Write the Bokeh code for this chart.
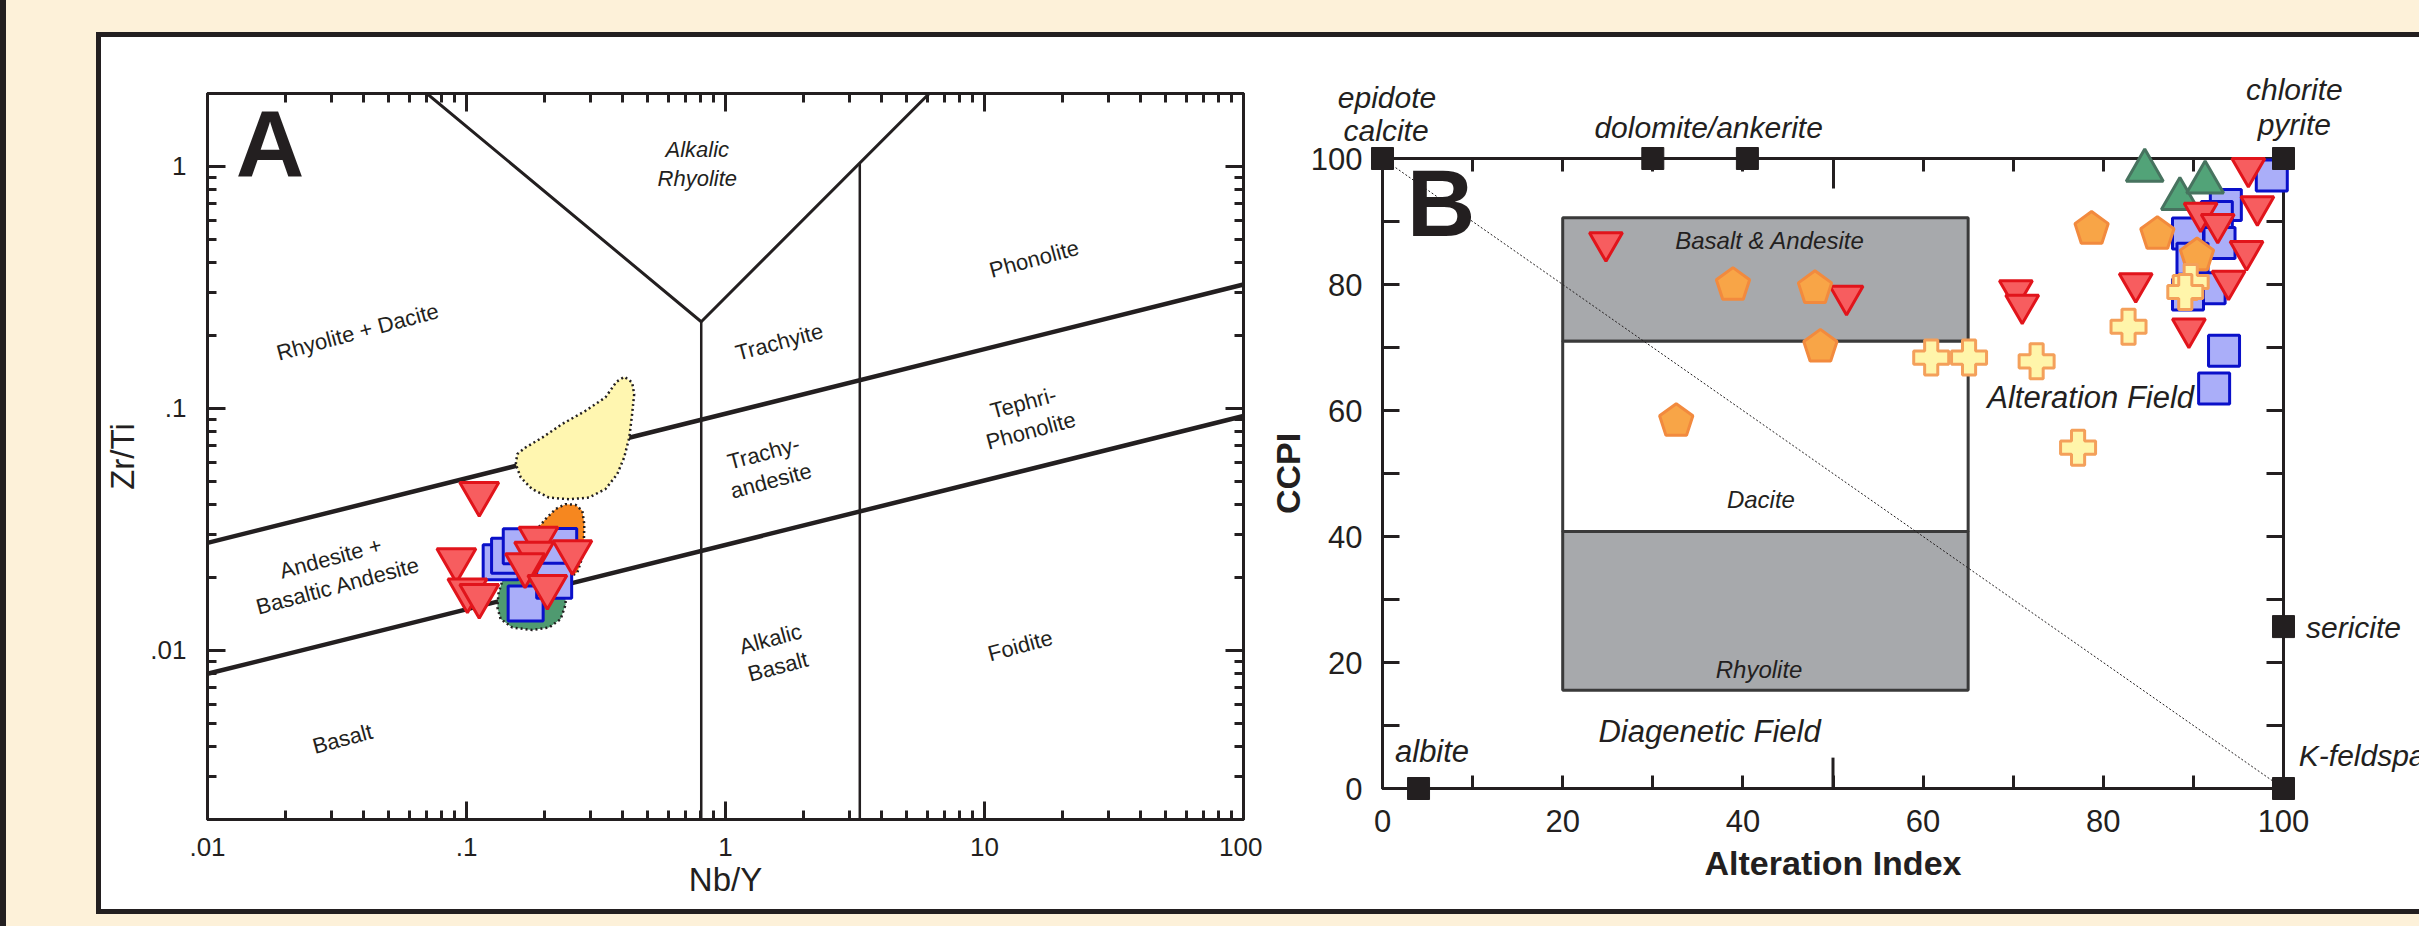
import math
from bokeh.plotting import figure
from bokeh.models import (Range1d, FixedTicker, LogAxis, LinearAxis, Label,
                          CustomJSTickFormatter, Spacer, ColumnDataSource)
from bokeh.layouts import row, column
from bokeh.embed import file_html
from bokeh.resources import INLINE
from bokeh.core.properties import value

FONT = "Liberation Sans"
INK = "#231f20"
CREAM = "#fdf1d9"
RED_FILL, RED_LINE = "#f75d5f", "#e1141b"
BLUE_FILL, BLUE_LINE = "#aaaef9", "#0a10c9"
GREEN_FILL, GREEN_LINE = "#52a378", "#47735f"
ORANGE_FILL, ORANGE_LINE = "#f8a547", "#f28a3e"
CROSS_FILL, CROSS_LINE = "#fff5aa", "#f4a05a"
GREY = "#a7a9ac"

# ================= Panel A : Nb/Y vs Zr/Ti =================
a_x_limits = [0.01, 100]
a_y_limits = [0.002, 2]
a_x_ticks = [0.01, 0.1, 1, 10, 100]
a_y_ticks = [0.01, 0.1, 1]
a_x_minor = [m * 10.0 ** e for e in range(-2, 2) for m in range(2, 10)]
a_y_minor = [v for v in (m * 10.0 ** e for e in range(-3, 1) for m in range(2, 10)) if v <= 2]

# classification boundaries
a_upper_x, a_upper_y = [0.01, 100], [0.0278, 0.325]
a_lower_x, a_lower_y = [0.01, 100], [0.008, 0.093]
a_v1_x, a_v1_y = [0.806, 0.806], [0.002, 0.228]
a_v2_x, a_v2_y = [3.3, 3.3], [0.002, 1.03]
a_vee_x, a_vee_y = [0.0703, 0.806, 6.12], [2, 0.228, 2]

# shaded fields
yellow_x = [0.155, 0.157, 0.169, 0.196, 0.234, 0.288, 0.344, 0.379, 0.407, 0.436, 0.444,
            0.436, 0.425, 0.406, 0.382, 0.344, 0.297, 0.249, 0.208, 0.179, 0.162]
yellow_y = [0.0588, 0.0647, 0.0689, 0.0757, 0.0861, 0.0977, 0.111, 0.1287, 0.135, 0.128, 0.1145,
            0.0947, 0.0757, 0.0626, 0.0535, 0.0464, 0.0428, 0.0421, 0.0428, 0.0464, 0.0518]
orange_x = [0.185, 0.202, 0.221, 0.2415, 0.264, 0.280, 0.285, 0.284, 0.280, 0.268, 0.249,
            0.2275, 0.2145, 0.196, 0.185]
orange_y = [0.0312, 0.0349, 0.0384, 0.0402, 0.0399, 0.0377, 0.0332, 0.0284, 0.0242, 0.0210,
            0.0200, 0.0207, 0.0220, 0.0250, 0.0275]
green_x = [0.1375, 0.1503, 0.1692, 0.1906, 0.2145, 0.231, 0.240, 0.2415, 0.231, 0.2084,
           0.1796, 0.1503, 0.1355, 0.1316, 0.1328]
green_y = [0.0194, 0.0234, 0.0250, 0.0251, 0.0238, 0.0213, 0.0182, 0.0155, 0.01346, 0.01243,
           0.01213, 0.01243, 0.01346, 0.01504, 0.0171]

# samples
a_sq_nby = [0.1355, 0.146, 0.162, 0.228, 0.1692, 0.218]
a_sq_zrti = [0.0231, 0.0246, 0.0269, 0.0270, 0.0156, 0.0194]
a_tri_nby = [0.112, 0.0914, 0.1008, 0.112, 0.1895, 0.1824, 0.2563, 0.1683, 0.2052]
a_tri_zrti = [0.0444, 0.0236, 0.0177, 0.0168, 0.0290, 0.0251, 0.0255, 0.0225, 0.0183]

a_field_text = ["Rhyolite + Dacite", "Trachyite", "Phonolite", "Trachy-\nandesite",
                "Tephri-\nPhonolite", "Andesite +\nBasaltic Andesite", "Alkalic\nBasalt",
                "Foidite", "Basalt"]
a_field_x = [0.0380, 1.613, 15.55, 1.45, 14.6, 0.0309, 1.542, 13.73, 0.0332]
a_field_y = [0.207, 0.188, 0.4145, 0.0573, 0.0923, 0.0211, 0.00977, 0.01046, 0.00431]

# ================= Panel B : alteration box plot =================
b_limits = [0, 100]
b_ticks = [0, 20, 40, 60, 80, 100]
b_minor = [10, 30, 50, 70, 90]
b_mid_tick = [50]

box_left = [20, 20, 20]
box_right = [65, 65, 65]
box_bottom = [71, 40.8, 15.6]
box_top = [90.6, 71, 40.8]
box_color = [GREY, "white", GREY]

diag_ai, diag_ccpi = [0, 100], [100, 0]

end_ai = [0, 30, 40.5, 100, 100, 100, 4]
end_ccpi = [100, 100, 100, 100, 25.7, 0, 0]

sq_ai = [98.7, 93.6, 92.6, 89.4, 92.9, 89.9, 91.8, 89.4, 93.4, 92.3]
sq_ccpi = [97.3, 92.6, 90.7, 88.1, 86.6, 84.1, 79.4, 78.4, 69.5, 63.5]
gtri_ai = [84.6, 88.5, 91.3]
gtri_ccpi = [98.1, 93.6, 96.2]
rtri_ai = [96.1, 97.1, 90.8, 92.7, 95.9, 93.9, 83.6, 89.5, 70.3, 71.0, 24.8, 51.5]
rtri_ccpi = [98.5, 92.4, 91.4, 89.6, 85.3, 80.6, 80.2, 73.0, 79.1, 76.8, 86.7, 78.2]
pent_ai = [78.7, 86.0, 90.4, 38.9, 48.0, 48.6, 32.6]
pent_ccpi = [88.8, 88.0, 84.6, 79.9, 79.4, 70.1, 58.3]
cross_ai = [89.7, 89.1, 82.8, 60.9, 65.1, 72.6, 77.2]
cross_ccpi = [80.4, 78.8, 73.3, 68.4, 68.4, 67.8, 54.1]

b_in_text = ["Basalt & Andesite", "Dacite", "Rhyolite"]
b_in_ai = [43.0, 42.0, 41.8]
b_in_ccpi = [87.0, 45.9, 18.9]
b_field_text = ["Alteration Field", "Diagenetic Field", "albite"]
b_field_ai = [78.6, 36.3, 5.5]
b_field_ccpi = [62.0, 9.1, 5.9]
b_out_text = ["epidote", "calcite", "dolomite/ankerite", "chlorite", "pyrite"]
b_out_ai = [0.5, 0.4, 36.2, 101.2, 101.2]
b_out_ccpi = [109.7, 104.4, 105.0, 110.9, 105.4]
b_side_text = ["sericite", "K-feldspar"]
b_side_ai = [102.5, 101.7]
b_side_ccpi = [25.5, 5.3]


def style_axis(ax, major_in, minor_in, label_size):
    ax.axis_line_color = INK
    ax.axis_line_width = 3
    ax.major_tick_line_color = INK
    ax.major_tick_line_width = 3
    ax.minor_tick_line_color = INK
    ax.minor_tick_line_width = 3
    ax.major_tick_in = major_in
    ax.major_tick_out = 0
    ax.minor_tick_in = minor_in
    ax.minor_tick_out = 0
    ax.major_label_text_font = FONT
    ax.major_label_text_color = INK
    ax.major_label_text_font_size = label_size


def blank_axis(cls, ticker, major_in, minor_in):
    ax = cls(ticker=ticker, formatter=CustomJSTickFormatter(code="return ''"))
    style_axis(ax, major_in, minor_in, "1px")
    ax.major_label_standoff = 0
    return ax


# ----------------------- figure A -----------------------
pA = figure(width=1161, height=872, x_axis_type="log", y_axis_type="log",
            x_range=Range1d(*a_x_limits), y_range=Range1d(*a_y_limits),
            output_backend="svg", toolbar_location=None,
            min_border_left=104, min_border_right=19, min_border_top=56, min_border_bottom=90,
            background_fill_color="white", border_fill_color="white",
            outline_line_color=INK, outline_line_width=3)
pA.grid.visible = False
fmtA = CustomJSTickFormatter(code="return tick >= 1 ? tick.toFixed(0) : String(tick).replace(/^0/, '')")
xa = pA.xaxis[0]
xa.ticker = FixedTicker(ticks=a_x_ticks, minor_ticks=a_x_minor)
xa.formatter = fmtA
style_axis(xa, 18, 9, "26px")
xa.major_label_standoff = 18
xa.axis_label = "Nb/Y"
ya = pA.yaxis[0]
ya.ticker = FixedTicker(ticks=a_y_ticks, minor_ticks=a_y_minor)
ya.formatter = fmtA
style_axis(ya, 18, 9, "26px")
ya.major_label_standoff = 21
ya.axis_label = "Zr/Ti"
for ax, stand in ((xa, 2), (ya, 6)):
    ax.axis_label_text_font = FONT
    ax.axis_label_text_font_size = "33px"
    ax.axis_label_text_font_style = "normal"
    ax.axis_label_text_color = INK
    ax.axis_label_standoff = stand
pA.add_layout(blank_axis(LogAxis, FixedTicker(ticks=a_x_ticks, minor_ticks=a_x_minor), 18, 9), "above")
pA.add_layout(blank_axis(LogAxis, FixedTicker(ticks=a_y_ticks, minor_ticks=a_y_minor), 18, 9), "right")

for xs, ys, w in ((a_upper_x, a_upper_y, 4.5), (a_lower_x, a_lower_y, 4.5),
                  (a_v1_x, a_v1_y, 2.5), (a_v2_x, a_v2_y, 2.5), (a_vee_x, a_vee_y, 3)):
    pA.line(xs, ys, line_color=INK, line_width=w)

for fx, fy, col in ((yellow_x, yellow_y, "#fff6b0"), (orange_x, orange_y, "#f6871f"),
                    (green_x, green_y, "#4f9a70")):
    pA.patch(fx, fy, fill_color=col, line_color=INK, line_width=2.5, line_dash="2 3")

pA.scatter(a_sq_nby, a_sq_zrti, marker="square", size=35, fill_color=BLUE_FILL,
           line_color=BLUE_LINE, line_width=3)
pA.scatter(a_tri_nby, a_tri_zrti, marker="inverted_triangle", size=39, fill_color=RED_FILL,
           line_color=RED_LINE, line_width=3)

srcA = ColumnDataSource(dict(x=a_field_x, y=a_field_y, text=a_field_text))
pA.text(x="x", y="y", text="text", source=srcA, angle=0.262, text_font=value(FONT),
        text_font_size=value("22px"), text_align="center", text_baseline="middle",
        text_color=INK, text_line_height=1.15)
pA.add_layout(Label(x=0.778, y=1.023, text="Alkalic\nRhyolite", text_font=FONT,
                    text_font_size="22px", text_font_style="italic", text_align="center",
                    text_baseline="middle", text_color=INK, text_line_height=1.15))
pA.add_layout(Label(x=0.01742, y=1.237, text="A", text_font=FONT, text_font_size="95px",
                    text_font_style="bold", text_align="center", text_baseline="middle",
                    text_color=INK))

# ----------------------- figure B -----------------------
pB = figure(width=1157, height=872, x_range=Range1d(*b_limits), y_range=Range1d(*b_limits),
            output_backend="svg", toolbar_location=None,
            min_border_left=120, min_border_right=136, min_border_top=121, min_border_bottom=121,
            background_fill_color="white", border_fill_color="white",
            outline_line_color=INK, outline_line_width=3)
pB.grid.visible = False
xb = pB.xaxis[0]
xb.ticker = FixedTicker(ticks=b_ticks, minor_ticks=b_minor)
style_axis(xb, 13, 13, "31px")
xb.major_label_standoff = 21
xb.axis_label = "Alteration Index"
yb = pB.yaxis[0]
yb.ticker = FixedTicker(ticks=b_ticks, minor_ticks=b_minor)
style_axis(yb, 17, 17, "31px")
yb.major_label_standoff = 20
yb.axis_label = "CCPI"
for ax, stand in ((xb, 9), (yb, 1)):
    ax.axis_label_text_font = FONT
    ax.axis_label_text_font_size = "34px"
    ax.axis_label_text_font_style = "bold"
    ax.axis_label_text_color = INK
    ax.axis_label_standoff = stand
pB.add_layout(blank_axis(LinearAxis, FixedTicker(ticks=b_mid_tick,
                                                 minor_ticks=[t for t in range(0, 101, 10) if t != 50]),
                         30, 13), "above")
pB.add_layout(blank_axis(LinearAxis, FixedTicker(ticks=b_ticks, minor_ticks=b_minor), 17, 17), "right")
pB.segment(x0=b_mid_tick, y0=[0], x1=b_mid_tick, y1=[4.9], line_color=INK, line_width=3)

pB.quad(left=box_left, right=box_right, bottom=box_bottom, top=box_top, fill_color=box_color,
        line_color="#3a3a3a", line_width=3)
pB.line(diag_ai, diag_ccpi, line_color=INK, line_width=1, line_dash="2 2")

srcBin = ColumnDataSource(dict(x=b_in_ai, y=b_in_ccpi, text=b_in_text))
pB.text(x="x", y="y", text="text", source=srcBin, text_font=value(FONT),
        text_font_size=value("24px"), text_font_style="italic", text_align="center",
        text_baseline="middle", text_color=INK)
srcBf = ColumnDataSource(dict(x=b_field_ai, y=b_field_ccpi, text=b_field_text))
pB.text(x="x", y="y", text="text", source=srcBf, text_font=value(FONT),
        text_font_size=value("31px"), text_font_style="italic", text_align="center",
        text_baseline="middle", text_color=INK)

rs = []
rs.append(pB.scatter(sq_ai, sq_ccpi, marker="square", size=31, fill_color=BLUE_FILL,
                     line_color=BLUE_LINE, line_width=3))
rs.append(pB.scatter(gtri_ai, gtri_ccpi, marker="triangle", size=37, fill_color=GREEN_FILL,
                     line_color=GREEN_LINE, line_width=3))
rs.append(pB.scatter(rtri_ai, rtri_ccpi, marker="inverted_triangle", size=33, fill_color=RED_FILL,
                     line_color=RED_LINE, line_width=3))
try:
    # angle 0 puts one vertex straight up
    rP = pB.ngon(x=pent_ai, y=pent_ccpi, radius=17.5, radius_units="screen", n=5,
                 angle=0, fill_color=ORANGE_FILL, line_color=ORANGE_LINE, line_width=3)
except Exception:
    rP = pB.scatter(pent_ai, pent_ccpi, marker="hex", size=33, fill_color=ORANGE_FILL,
                    line_color=ORANGE_LINE, line_width=3)
rs.append(rP)
rs.append(pB.scatter(cross_ai, cross_ccpi, marker="plus", size=35, fill_color=CROSS_FILL,
                     line_color=CROSS_LINE, line_width=3))
rs.append(pB.scatter(end_ai, end_ccpi, marker="square", size=22, fill_color=INK,
                     line_color=INK, line_width=1))
for r in rs:
    r.level = "overlay"

# end-member names sit outside the frame: overlay-level text is not clipped
srcOut = ColumnDataSource(dict(x=b_out_ai, y=b_out_ccpi, text=b_out_text))
pB.text(x="x", y="y", text="text", source=srcOut, text_font=value(FONT),
        text_font_size=value("30px"), text_font_style="italic", text_align="center",
        text_baseline="middle", text_color=INK, level="overlay")
srcSide = ColumnDataSource(dict(x=b_side_ai, y=b_side_ccpi, text=b_side_text))
pB.text(x="x", y="y", text="text", source=srcSide, text_font=value(FONT),
        text_font_size=value("30px"), text_font_style="italic", text_align="left",
        text_baseline="middle", text_color=INK, level="overlay")
pB.add_layout(Label(x=6.5, y=93.0, text="B", text_font=FONT, text_font_size="95px",
                    text_font_style="bold", text_align="center", text_baseline="middle",
                    text_color=INK))

# the two panels have different frame extents: do not align them
for p in (pA, pB):
    if "frame_align" in p.properties():
        p.frame_align = False


# ----------------------- page layout -----------------------
def block(w, h, color):
    return Spacer(width=w, height=h, styles={"background-color": color})


layout = row(
    block(6, 926, INK),
    column(
        block(2413, 32, CREAM),
        row(block(90, 882, CREAM),
            column(block(2323, 5, INK),
                   row(block(5, 872, INK), pA, pB),
                   block(2323, 5, INK))),
        block(2413, 12, CREAM),
    ),
)

open("out.html", "w").write(file_html(layout, INLINE))
